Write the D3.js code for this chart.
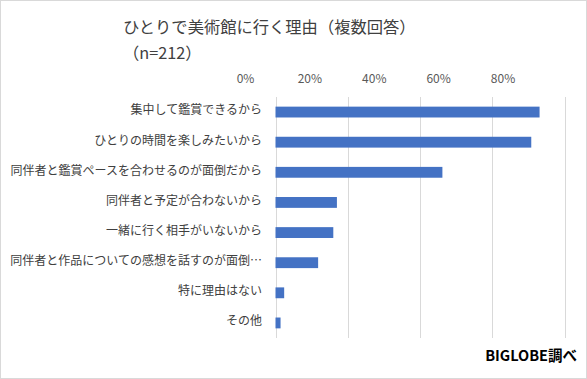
<!DOCTYPE html>
<html><head><meta charset="utf-8">
<script src="https://cdn.jsdelivr.net/npm/d3@7"></script>
<style>
html,body{margin:0;padding:0;background:#fff;}
svg{display:block;}
</style>
</head><body>
<script>
const categories = [
  "集中して鑑賞できるから",
  "ひとりの時間を楽しみたいから",
  "同伴者と鑑賞ペースを合わせるのが面倒だから",
  "同伴者と予定が合わないから",
  "一緒に行く相手がいないから",
  "同伴者と作品についての感想を話すのが面倒…",
  "特に理由はない",
  "その他"
];
const values = [0.731, 0.708, 0.462, 0.170, 0.160, 0.118, 0.024, 0.014];
const tickValues = [0, 0.2, 0.4, 0.6, 0.8];
const tickLabels = ["0%", "20%", "40%", "60%", "80%"];
const titleLines = ["ひとりで美術館に行く理由（複数回答）", "（n=212）"];
const sourceText = "BIGLOBE調べ";

const W = 587, H = 379;
const font = "'Noto Sans CJK JP','Noto Sans',sans-serif";
const svg = d3.select("body").append("svg").attr("width", W).attr("height", H);

svg.append("rect").attr("x", 0.5).attr("y", 0.5).attr("width", W - 1).attr("height", H - 1)
  .attr("fill", "#fff").attr("stroke", "#d9d9d9");

const x = d3.scaleLinear().domain([0, 0.8]).range([275.5, 564.5]);
const y = d3.scaleBand().domain(categories).range([97, 338]).paddingInner(0.64).paddingOuter(0.32);
// tick labels are drawn slightly compressed in the reference
const xLabel = d3.scaleLinear().domain([0, 0.8]).range([245, 502.5]);

// gridlines
svg.append("g").selectAll("line").data(tickValues).join("line")
  .attr("x1", d => Math.round(x(d)) + 0.5).attr("x2", d => Math.round(x(d)) + 0.5)
  .attr("y1", 97).attr("y2", 338)
  .attr("stroke", "#d9d9d9").attr("stroke-width", 1);

// top axis labels
const axis = d3.axisTop(xLabel).tickValues(tickValues).tickSize(0).tickPadding(0)
  .tickFormat((d, i) => tickLabels[i]);
const ag = svg.append("g").attr("transform", "translate(0,83)").call(axis);
ag.select(".domain").remove();
ag.selectAll("text").attr("font-family", font).attr("font-size", 12).attr("fill", "#595959");

// bars
svg.append("g").selectAll("rect").data(values).join("rect")
  .attr("x", x(0))
  .attr("y", (d, i) => y(categories[i]))
  .attr("width", d => x(d) - x(0))
  .attr("height", y.bandwidth())
  .attr("fill", "#4472C4");

// category labels
const yAxis = d3.axisLeft(y).tickSize(0).tickPadding(0);
const yg = svg.append("g").attr("transform", "translate(262,-1.5)").call(yAxis);
yg.select(".domain").remove();
yg.selectAll("text").attr("font-family", font).attr("font-size", 12).attr("fill", "#404040");

// title
svg.append("g").selectAll("text").data(titleLines).join("text")
  .attr("x", 123)
  .attr("y", (d, i) => 33 + i * 26)
  .attr("font-family", font).attr("font-size", 16.3).attr("fill", "#404040")
  .text(d => d);

// source
svg.append("text").attr("x", 577).attr("y", 361).attr("text-anchor", "end")
  .attr("font-family", font).attr("font-size", 14.5).attr("font-weight", "bold")
  .attr("fill", "#000").text(sourceText);
</script>
</body></html>
